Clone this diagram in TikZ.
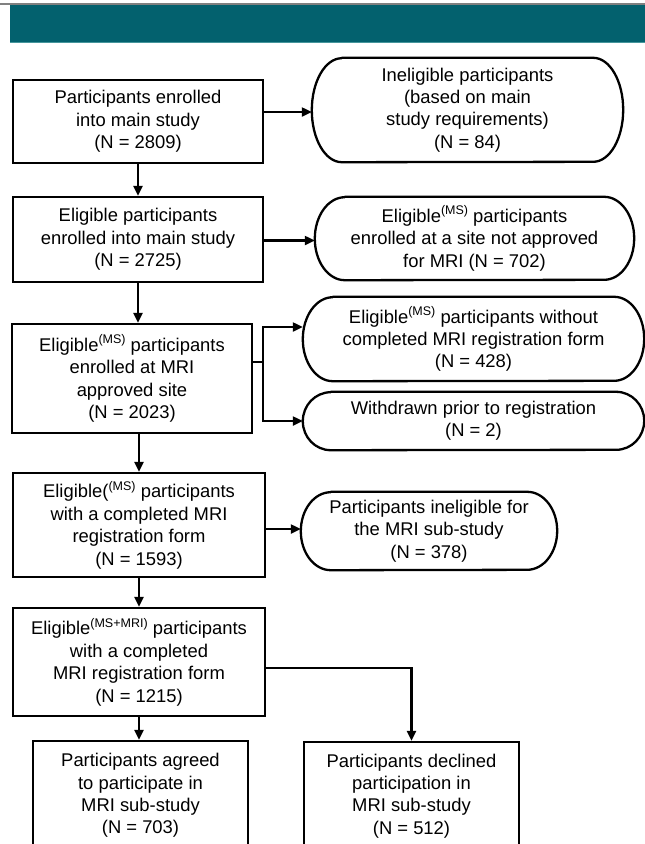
\documentclass[tikz,border=0pt]{standalone}
\usepackage{fontspec}
\setmainfont{Liberation Sans}
\usetikzlibrary{arrows.meta}
\definecolor{tealbar}{RGB}{3,97,110}
\definecolor{tealedge}{RGB}{70,150,156}
\newcommand\sps[1]{\raisebox{0.42em}{\fontsize{12.5}{12.5}\selectfont #1}}
\newcommand\diafont{\fontsize{18.4}{22.4}\selectfont}
\newcommand\stadium[3]{%
  \draw[ovl] ([xshift=#2]#1.north west) -- ([xshift=-#2]#1.north east)
    arc[start angle=90,end angle=-90,x radius=#2,y radius=#3]
    -- ([xshift=#2]#1.south west)
    arc[start angle=270,end angle=90,x radius=#2,y radius=#3] -- cycle;}
\begin{document}
\begin{tikzpicture}[x=1pt,y=-1pt,
  box/.style={draw, rectangle, line width=2.3pt, align=center, inner sep=0pt, font=\diafont},
  oval/.style={rectangle, align=center, inner sep=0pt, font=\diafont},
  arr/.style={line width=2.2pt, -{Triangle[length=10pt,width=9pt]}},
  lin/.style={line width=2.2pt},
  ovl/.style={line width=2.3pt, line join=round},
]
\useasboundingbox (0,0) rectangle (645,844);
\clip (0,0) rectangle (645,844);
% header bar
\fill[tealbar] (10,5) rectangle (645,43);
\draw[tealedge, line width=1pt] (10,42.5) -- (645,42.5);
\draw[gray, line width=1.5pt] (0,4) -- (645,4);

% main column
\node[box, minimum width=250pt, minimum height=83pt] (b1) at (138,121.5)
  {Participants enrolled\\into main study\\(N = 2809)};
\node[box, minimum width=250pt, minimum height=85pt] (b2) at (138,239.5)
  {Eligible participants\\enrolled into main study\\(N = 2725)};
\node[box, minimum width=240pt, minimum height=109pt] (b3) at (132,378.5)
  {Eligible\sps{(MS)} participants\\enrolled at MRI\\approved site\\(N = 2023)};
\node[box, minimum width=252pt, minimum height=104pt] (b4) at (139,525)
  {Eligible(\sps{(MS)} participants\\with a completed MRI\\registration form\\(N = 1593)};
\node[box, minimum width=252pt, minimum height=108pt] (b5) at (139,662)
  {Eligible\sps{(MS+MRI)} participants\\with a completed\\MRI registration form\\(N = 1215)};
\node[box, minimum width=215pt, minimum height=109pt] (b6) at (140.5,795.5)
  {Participants agreed\\to participate in\\MRI sub-study\\(N = 703)};
\node[box, minimum width=215pt, minimum height=108pt] (b7) at (411.5,796)
  {Participants declined\\participation in\\MRI sub-study\\(N = 512)};

% side ovals
\node[oval, minimum width=311pt, minimum height=104pt] (o1) at (467.5,110)
  {Ineligible participants\\(based on main\\study requirements)\\(N = 84)};
\stadium{o1}{30pt}{52pt}
\node[oval, minimum width=319pt, minimum height=83pt] (o2) at (474.5,238.5)
  {Eligible\sps{(MS)} participants\\enrolled at a site not approved\\for MRI (N = 702)};
\stadium{o2}{30pt}{41.5pt}
\node[oval, minimum width=341pt, minimum height=84pt] (o3) at (473.5,339)
  {Eligible\sps{(MS)} participants without\\completed MRI registration form\\(N = 428)};
\stadium{o3}{30pt}{42pt}
\node[oval, minimum width=341pt, minimum height=58pt] (o4) at (473.5,421)
  {Withdrawn prior to registration\\(N = 2)};
\stadium{o4}{28pt}{29pt}
\node[oval, minimum width=256pt, minimum height=78pt] (o5) at (429,531)
  {Participants ineligible for\\the MRI sub-study\\(N = 378)};
\stadium{o5}{30pt}{39pt}

% connectors
\draw[arr] (b1.south) -- (b2.north);
\draw[arr] (b2.south) -- (b2.south |- b3.north);
\draw[arr] (b3.south -| b4.north) -- (b4.north);
\draw[arr] (b4.south) -- (b5.north);
\draw[arr] (b5.south) -- (b5.south |- b6.north);

\draw[arr] ([yshift=-2pt]b1.east |- o1.west) -- ([yshift=-2pt]o1.west);
\draw[arr] ([yshift=-2pt]b2.east |- o2.west) -- ([yshift=-2pt]o2.west);
\coordinate (j3) at (263,362);
\draw[lin] (b3.east |- j3) -- (j3);
\draw[arr] (j3) |- ([yshift=12pt]o3.west);
\draw[arr] (j3) |- (o4.west);
\draw[arr] ([yshift=-4pt]b4.east) -- ([yshift=-4pt]b4.east -| o5.west);
\draw[arr] ([yshift=-6pt]b5.east) -| (b7.north);
\end{tikzpicture}
\end{document}
